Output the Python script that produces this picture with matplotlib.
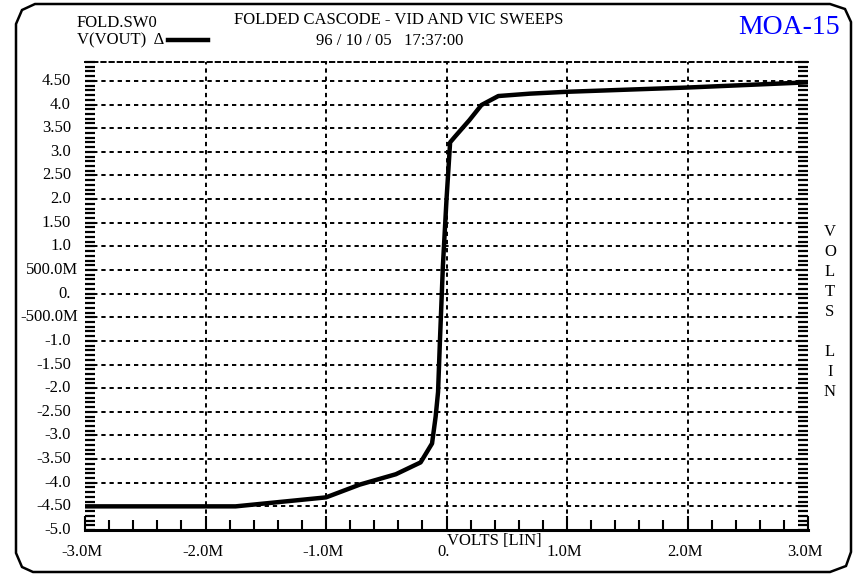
import matplotlib
matplotlib.use("Agg")
import matplotlib.pyplot as plt
from matplotlib.patches import Polygon
from matplotlib.lines import Line2D
from matplotlib.ticker import MultipleLocator, FixedLocator
import matplotlib.transforms as mtransforms

# ---- data ----
vin_M = [-3.0, -1.75, -1.0, -0.72, -0.42, -0.215, -0.12, -0.09, -0.07, -0.055,
         -0.03, 0.0, 0.03, 0.07, 0.19, 0.29, 0.43, 0.69, 1.0, 2.0, 3.0]
vout = [-4.5, -4.5, -4.31, -4.04, -3.82, -3.57, -3.17, -2.6, -2.08, -1.03,
        0.58, 1.99, 3.2, 3.32, 3.67, 3.99, 4.18, 4.23, 4.27, 4.36, 4.47]

x_ticks = [-3.0, -2.0, -1.0, 0.0, 1.0, 2.0, 3.0]
x_tick_labels = ['-3.0M', '-2.0M', '-1.0M', '0.', '1.0M', '2.0M', '3.0M']
y_ticks = [-5.0, -4.5, -4.0, -3.5, -3.0, -2.5, -2.0, -1.5, -1.0, -0.5, 0.0,
           0.5, 1.0, 1.5, 2.0, 2.5, 3.0, 3.5, 4.0, 4.5]
y_tick_labels = ['-5.0', '-4.50', '-4.0', '-3.50', '-3.0', '-2.50', '-2.0', '-1.50',
                 '-1.0', '-500.0M', '0.', '500.0M', '1.0', '1.50', '2.0', '2.50',
                 '3.0', '3.50', '4.0', '4.50']
x_grid = [-2.0, -1.0, 0.0, 1.0, 2.0]

title = "FOLDED CASCODE - VID AND VIC SWEEPS"
file_name = "FOLD.SW0"
trace_name = "V(VOUT)  \u0394"
date_str = "96 / 10 / 05   17:37:00"
tag = "MOA-15"
xlabel = "VOLTS [LIN]"
ylabel_letters = ['V', 'O', 'L', 'T', 'S', '', 'L', 'I', 'N']

FONT = 'Liberation Serif'
plt.rcParams['font.family'] = [FONT, 'DejaVu Serif']

W, H = 857, 574
fig = plt.figure(figsize=(W / 100, H / 100), dpi=100)

def fx(px):
    return px / W

def fy(py):
    return 1 - py / H

L, R, T, B = 85, 808, 62, 530
ax = fig.add_axes([fx(L), fy(B), fx(R) - fx(L), fy(T) - fy(B)])
ax.set_xlim(-3, 3)
ax.set_ylim(-5, 4.9)

dot = (0, (2.2, 2.0))
for yv in y_ticks[1:]:
    ax.axhline(yv, color='black', lw=1.4, ls=dot, zorder=1)
for xv in x_grid:
    ax.axvline(xv, color='black', lw=1.4, ls=dot, zorder=1)

ax.plot(vin_M, vout, color='black', lw=3.2, solid_joinstyle='round', zorder=3)

# spines
ax.spines['left'].set_visible(False)
ax.spines['right'].set_visible(False)
ax.spines['top'].set_linestyle(dot)
ax.spines['top'].set_linewidth(1.4)
ax.spines['bottom'].set_linewidth(2.2)

# ticks
ax.xaxis.set_major_locator(FixedLocator(x_ticks))
ax.xaxis.set_minor_locator(MultipleLocator(0.2))
ax.yaxis.set_major_locator(FixedLocator(y_ticks))
ax.yaxis.set_minor_locator(MultipleLocator(0.1))
ax.tick_params(axis='x', which='major', direction='in', length=10, width=1.5,
               bottom=True, top=False, labelbottom=False)
ax.tick_params(axis='x', which='minor', direction='in', length=7, width=1.5,
               bottom=True, top=False)
ax.tick_params(axis='y', which='both', direction='in', length=7.5, width=1.6,
               left=True, right=True, labelleft=False, labelright=False)

# y tick labels (right-aligned column left of the plot)
ylab_tr = mtransforms.blended_transform_factory(fig.transFigure, ax.transData)
for yv, lab in zip(y_ticks, y_tick_labels):
    extra = 7 if lab.endswith('M') else 0
    ax.text(fx(71 + extra), yv, lab, ha='right', va='center', fontsize=12,
            transform=ylab_tr)

# x tick labels
xlab_tr = mtransforms.offset_copy(
    mtransforms.blended_transform_factory(ax.transData, fig.transFigure),
    fig=fig, x=-3, units='dots')
for xv, lab in zip(x_ticks, x_tick_labels):
    ax.text(xv, fy(552), lab, ha='center', va='center', fontsize=12, transform=xlab_tr)

fig.text(fx(447), fy(541), xlabel, ha='left', va='center', fontsize=12)

# right vertical label
for i, ch in enumerate(ylabel_letters):
    if ch:
        fig.text(fx(830), fy(232 + i * 20), ch, ha='center', va='center', fontsize=12)

# header
fig.text(fx(399), fy(20), title, ha='center', va='center', fontsize=12)
fig.text(fx(77), fy(23), file_name, ha='left', va='center', fontsize=12)
fig.text(fx(77), fy(40), trace_name, ha='left', va='center', fontsize=12)
fig.add_artist(Line2D([fx(168), fx(208)], [fy(40), fy(40)], color='black', lw=3.2,
                      transform=fig.transFigure))
fig.text(fx(316), fy(41), date_str, ha='left', va='center', fontsize=12)
fig.text(fx(840), fy(27), tag, ha='right', va='center', fontsize=20, color='#0000ff')

# outer frame with chamfered corners
frame_px = [(16, 24), (22, 10), (35, 4), (830, 4), (845, 9), (851, 22),
            (851, 552), (846, 566), (830, 572), (33, 572), (22, 567), (16, 553)]
frame = Polygon([(fx(a), fy(b)) for a, b in frame_px], closed=True, fill=False,
                edgecolor='black', lw=1.8, transform=fig.transFigure)
fig.add_artist(frame)

fig.savefig('out.png', dpi=100)
